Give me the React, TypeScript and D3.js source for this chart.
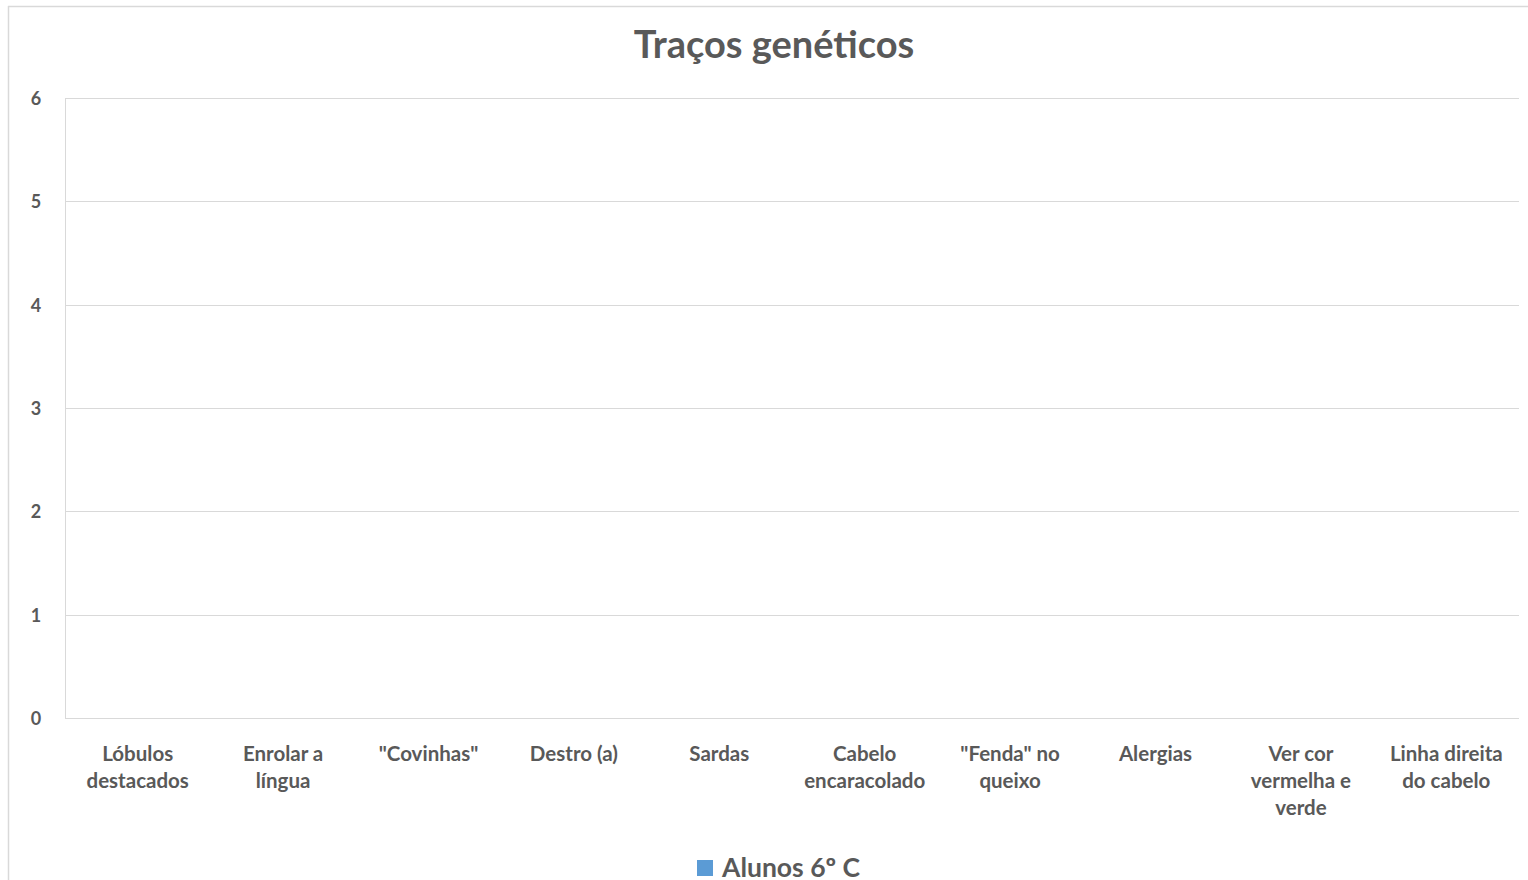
import React from "react";
import * as d3 from "d3";

const categories = [
  "Lóbulos\ndestacados",
  "Enrolar a\nlíngua",
  "\"Covinhas\"",
  "Destro (a)",
  "Sardas",
  "Cabelo\nencaracolado",
  "\"Fenda\" no\nqueixo",
  "Alergias",
  "Ver cor\nvermelha e\nverde",
  "Linha direita\ndo cabelo",
];
const values = [0, 0, 0, 0, 0, 0, 0, 0, 0, 0];
const yTicks = [0, 1, 2, 3, 4, 5, 6];
const seriesName = "Alunos 6º C";
const title = "Traços genéticos";

const W = 1528;
const H = 880;
const font = "Lato, 'Open Sans', 'DejaVu Sans', sans-serif";

export default function App() {
  const left = 65, right = 1519, top = 98, bottom = 718;
  const x = d3.scaleBand<string>().domain(categories).range([left, right]).paddingInner(0.55).paddingOuter(0.275);
  const y = d3.scaleLinear().domain([0, 6]).range([bottom, top]);
  const xc = d3.scaleBand<string>().domain(categories).range([left, right]);
  return (
    <svg width={W} height={H} style={{ position: "absolute", left: 0, top: 0, display: "block", background: "#fff" }}>
      <rect x={0} y={0} width={W} height={H} fill="#fff" />
      <line x1={8.5} y1={6} x2={8.5} y2={H} stroke="#d9d9d9" strokeWidth={1.5} />
      <line x1={8} y1={6.5} x2={W} y2={6.5} stroke="#d9d9d9" strokeWidth={1.5} />
      <text x={774} y={58} textAnchor="middle" fontFamily={font} fontWeight={700} fontSize={38} fill="#595959">{title}</text>
      {yTicks.map((t) => (
        <g key={t}>
          <line x1={left} x2={right} y1={Math.round(y(t)) + 0.5} y2={Math.round(y(t)) + 0.5} stroke="#d9d9d9" strokeWidth={1} />
          <text x={36} y={y(t) + 7} textAnchor="middle" fontFamily={font} fontWeight={700} fontSize={18} fill="#595959">{t}</text>
        </g>
      ))}
      <line x1={left + 0.5} x2={left + 0.5} y1={top} y2={bottom} stroke="#d9d9d9" strokeWidth={1} />
      {categories.map((c, i) => (
        <rect key={c} x={x(c)!} width={x.bandwidth()} y={y(values[i])} height={bottom - y(values[i])} fill="#5b9bd5" />
      ))}
      {categories.map((c) => (
        <text key={c} textAnchor="middle" fontFamily={font} fontWeight={700} fontSize={20.5} fill="#595959">
          {c.split("\n").map((ln, j) => (
            <tspan key={j} x={xc(c)! + xc.bandwidth() / 2} y={761 + j * 27}>{ln}</tspan>
          ))}
        </text>
      ))}
      <rect x={697} y={860} width={16} height={16} fill="#5b9bd5" />
      <text x={722} y={877} fontFamily={font} fontWeight={700} fontSize={26.5} fill="#595959">{seriesName}</text>
    </svg>
  );
}
